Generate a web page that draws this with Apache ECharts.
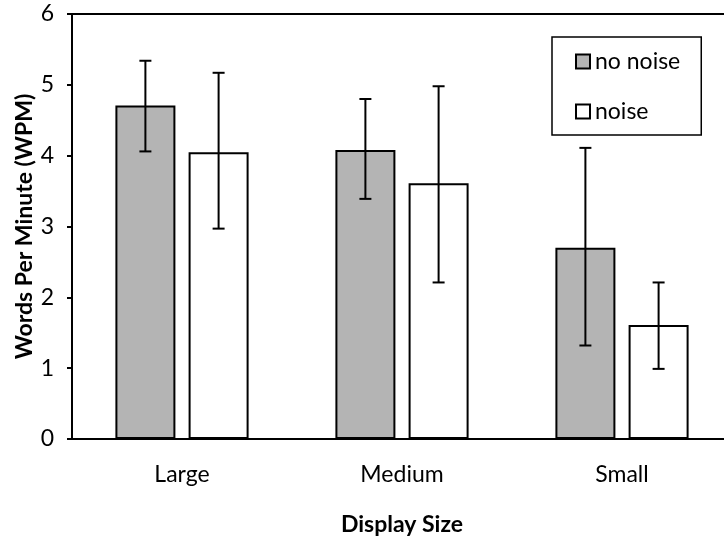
<!DOCTYPE html>
<html>
<head>
<meta charset="utf-8">
<script src="https://cdn.jsdelivr.net/npm/echarts@6/dist/echarts.min.js"></script>
<style>
  html, body { margin: 0; padding: 0; background: #fff; }
  #chart { width: 724px; height: 538px; }
</style>
</head>
<body>
<div id="chart"></div>
<script>
// data
var categories = ['Large', 'Medium', 'Small'];
var yTicks = [0, 1, 2, 3, 4, 5, 6];
var noNoise = [4.71, 4.08, 2.70];
var noNoiseLow = [4.06, 3.39, 1.32];
var noNoiseHigh = [5.34, 4.80, 4.11];
var noise = [4.05, 3.61, 1.61];
var noiseLow = [2.97, 2.21, 0.99];
var noiseHigh = [5.17, 4.98, 2.21];

var barW = 60;
var gapPct = 22;  // barGap in %
var half = (barW + barW * gapPct / 100) / 2;

var font = 'Lato';
var fs = 23;

function errData(lo, hi) {
    return lo.map(function (v, i) {
        return [i, v, hi[i]];
    });
}

function errSeries(lo, hi, off) {
    return {
        type: 'custom',
        z: 10,
        silent: true,
        data: errData(lo, hi),
        encode: { x: 0, y: [1, 2] },
        renderItem: function (params, api) {
            var p1 = api.coord([api.value(0), api.value(1)]);
            var p2 = api.coord([api.value(0), api.value(2)]);
            var x = p1[0] + off;
            var cap = 6;
            var st = { stroke: '#000', lineWidth: 2 };
            return {
                type: 'group',
                children: [
                    { type: 'line', shape: { x1: x, y1: p1[1], x2: x, y2: p2[1] }, style: st },
                    { type: 'line', shape: { x1: x - cap, y1: p1[1], x2: x + cap, y2: p1[1] }, style: st },
                    { type: 'line', shape: { x1: x - cap, y1: p2[1], x2: x + cap, y2: p2[1] }, style: st }
                ]
            };
        }
    };
}

var chart = echarts.init(document.getElementById('chart'));
var option = {
    animation: false,
    backgroundColor: '#fff',
    textStyle: { fontFamily: font },
    grid: {
        left: 72, top: 14, width: 660, height: 425,
        outerBoundsMode: 'none',
        containLabel: false,
        show: true, borderColor: '#000', borderWidth: 2
    },
    legend: {
        data: ['no noise', 'noise'],
        orient: 'vertical',
        left: 552, top: 37,
        selectedMode: false,
        icon: 'rect',
        itemWidth: 14, itemHeight: 14,
        itemGap: 27,
        padding: [13, 21, 12, 23],
        borderColor: '#000', borderWidth: 1.5,
        backgroundColor: '#fff',
        textStyle: { fontFamily: font, fontSize: fs, color: '#000' }
    },
    xAxis: {
        type: 'category',
        data: categories,
        name: 'Display Size',
        nameLocation: 'middle',
        nameGap: 74,
        nameMoveOverlap: false,
        nameTextStyle: { fontFamily: font, fontSize: fs, fontWeight: 'bold', color: '#000' },
        axisLine: { lineStyle: { color: '#000', width: 2 } },
        axisTick: { show: false },
        axisLabel: { margin: 24, fontSize: fs, color: '#000', fontFamily: font }
    },
    yAxis: {
        type: 'value',
        min: yTicks[0], max: yTicks[yTicks.length - 1], interval: 1,
        name: 'Words Per Minute (WPM)',
        nameLocation: 'middle',
        nameGap: 36,
        nameMoveOverlap: false,
        nameTextStyle: { fontFamily: font, fontSize: fs, fontWeight: 'bold', color: '#000' },
        axisLine: { show: true, lineStyle: { color: '#000', width: 2 } },
        axisTick: { show: true, length: 5, lineStyle: { color: '#000', width: 2 } },
        splitLine: { show: false },
        axisLabel: { margin: 18, fontSize: fs, color: '#000', fontFamily: font }
    },
    series: [
        {
            name: 'no noise', type: 'bar', data: noNoise,
            barWidth: barW, barGap: gapPct + '%',
            itemStyle: { color: '#b4b4b4', borderColor: '#000', borderWidth: 2 }
        },
        {
            name: 'noise', type: 'bar', data: noise,
            barWidth: barW,
            itemStyle: { color: '#fff', borderColor: '#000', borderWidth: 2 }
        },
        errSeries(noNoiseLow, noNoiseHigh, -half),
        errSeries(noiseLow, noiseHigh, half)
    ]
};
chart.setOption(option);
</script>
</body>
</html>
